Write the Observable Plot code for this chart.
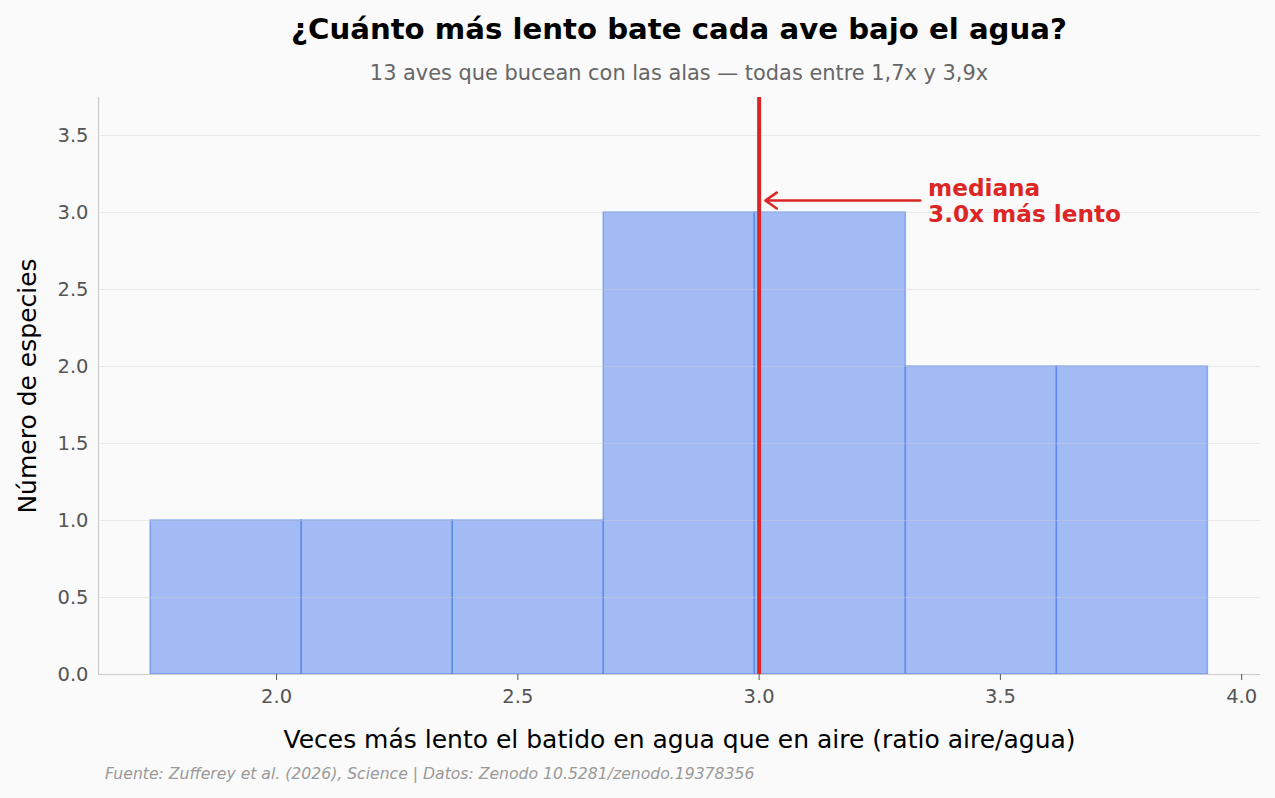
<!DOCTYPE html>
<html>
<head>
<meta charset="utf-8">
<script src="https://cdn.jsdelivr.net/npm/d3@7"></script>
<script src="https://cdn.jsdelivr.net/npm/@observablehq/plot@0.6"></script>
<style>
  html, body { margin: 0; padding: 0; background: #fafafa; }
  #wrap { position: relative; width: 1275px; height: 798px; background: #fafafa; font-family: "DejaVu Sans", sans-serif; overflow: hidden; }
  .t { position: absolute; white-space: nowrap; }
  #title { left: 98px; width: 1162px; top: 10px; text-align: center; font-size: 29.2px; font-weight: bold; color: #000; line-height: 38px; }
  #subtitle { left: 98px; width: 1162px; top: 60px; text-align: center; font-size: 20.9px; color: #666; line-height: 26px; }
  #caption { left: 105px; top: 764px; font-size: 15.65px; font-style: italic; color: #999; line-height: 20px; }
  #chart { position: absolute; left: 0; top: 90px; }
</style>
</head>
<body>
<div id="wrap">
  <div id="title" class="t">¿Cuánto más lento bate cada ave bajo el agua?</div>
  <div id="subtitle" class="t">13 aves que bucean con las alas — todas entre 1,7x y 3,9x</div>
  <div id="chart"></div>
  <div id="caption" class="t">Fuente: Zufferey et al. (2026), Science | Datos: Zenodo 10.5281/zenodo.19378356</div>
</div>
<script>
// ---- data ----
const binStart = [1.739, 2.052, 2.365, 2.678, 2.991, 3.304, 3.617];
const binEnd   = [2.052, 2.365, 2.678, 2.991, 3.304, 3.617, 3.930];
const counts   = [1, 1, 1, 3, 3, 2, 2];
const median = 3.0;
const xTicks = [2.0, 2.5, 3.0, 3.5, 4.0];
const yTicks = [0, 0.5, 1.0, 1.5, 2.0, 2.5, 3.0, 3.5];
const annotationLines = ["mediana", "3.0x más lento"];
const xLabel = "Veces más lento el batido en agua que en aire (ratio aire/agua)";
const yLabel = "Número de especies";

const bins = binStart.map((s, i) => ({x1: s, x2: binEnd[i], count: counts[i]}));
const red = "#dc2626";
const blue = "#4a7bed";
const xDomain = [1.631, 4.039];
const yDomain = [0, 3.747];
const maxCount = d3.max(counts);

const plot = Plot.plot({
  width: 1275,
  height: 708,
  marginLeft: 98,
  marginRight: 15,
  marginTop: 7,
  marginBottom: 124,
  style: { background: "transparent", fontFamily: "DejaVu Sans, sans-serif" },
  x: { domain: xDomain },
  y: { domain: yDomain },
  marks: [
    Plot.rectY(bins, { x1: "x1", x2: "x2", y: "count", inset: 0,
      fill: blue, fillOpacity: 0.5, stroke: blue, strokeOpacity: 0.55, strokeWidth: 1.5 }),
    Plot.gridY(yTicks.slice(1), { stroke: "#d0d0d0", strokeOpacity: 0.4, strokeWidth: 1 }),
    Plot.ruleX([xDomain[0]], { stroke: "#cccccc", strokeWidth: 1.2 }),
    Plot.ruleY([0], { stroke: "#cccccc", strokeWidth: 1.2 }),
    Plot.axisX({ ticks: xTicks, tickFormat: d3.format(".1f"), tickSize: 6, tickPadding: 9,
      fontSize: 19.5, color: "#555", label: null }),
    Plot.axisY({ ticks: yTicks, tickFormat: d3.format(".1f"), tickSize: 0, tickPadding: 10,
      fontSize: 19.5, color: "#555", label: null }),
    Plot.ruleX([median], { stroke: red, strokeWidth: 4 }),
    Plot.arrow([median], { x1: d => d + 0.334, x2: d => d + 0.013,
      y1: maxCount + 0.078, y2: maxCount + 0.078,
      stroke: red, strokeWidth: 2.6, headLength: 8, headAngle: 70 }),
    Plot.text([annotationLines.join("\n")], { x: median + 0.35, y: maxCount + 0.08,
      text: d => d, textAnchor: "start", lineAnchor: "middle", lineHeight: 1.12,
      fill: red, fontWeight: "bold", fontSize: 23.2 }),
    Plot.text([xLabel], { frameAnchor: "bottom", dy: 65, text: d => d, lineAnchor: "middle",
      textAnchor: "middle", fontSize: 25, fill: "#000" }),
    Plot.text([yLabel], { frameAnchor: "left", dx: -71, rotate: -90, text: d => d, lineAnchor: "middle",
      textAnchor: "middle", fontSize: 25, fill: "#000" })
  ]
});
document.getElementById("chart").appendChild(plot);
</script>
</body>
</html>
